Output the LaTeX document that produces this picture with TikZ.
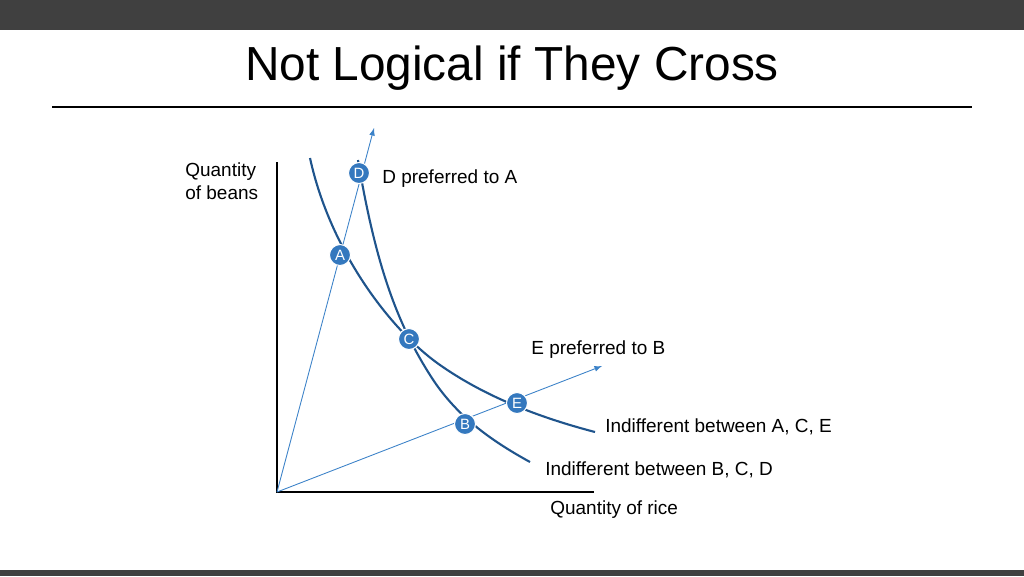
\documentclass[tikz,border=0pt]{standalone}
\usepackage{fontspec}
\setmainfont{Liberation Sans}
\usetikzlibrary{arrows}
\definecolor{curveblue}{RGB}{31,84,140}
\definecolor{rayblue}{RGB}{60,130,200}
\definecolor{dotblue}{RGB}{52,120,190}
\definecolor{bar}{RGB}{64,64,64}
\tikzset{
  pt/.style={circle, fill=dotblue, draw=white, line width=0.6pt, minimum size=21*0.02cm, inner sep=0pt, text=white, font=\fontsize{8.5}{8.5}\selectfont},
  lbl/.style={anchor=west, inner sep=0pt, font=\fontsize{10.8}{13}\selectfont},
  ray/.style={rayblue, line width=0.5pt, -latex},
  icurve/.style={curveblue, line width=1.2pt}
}
\begin{document}
\begin{tikzpicture}[x=0.02cm, y=-0.02cm]
  \useasboundingbox (0,0) rectangle (1024,576);
  \fill[bar] (0,0) rectangle (1024,30);
  \fill[bar] (0,570) rectangle (1024,576);
  \node[font=\fontsize{27.2}{30}\selectfont] (title) at (512,68) {Not Logical if They Cross};
  \draw[line width=0.8pt] (52,107) -- (972,107);
  % axes
  \coordinate (origin) at (277,492);
  \coordinate (ytop) at (277,162);
  \coordinate (xend) at (594,492);
  \draw[line width=1.5pt] (ytop) -- (origin) -- (xend);
  % rays
  \coordinate (ray1) at (374,128);
  \coordinate (ray2) at (602,366);
  \draw[ray] (origin) -- (ray1);
  \draw[ray] (origin) -- (ray2);
  % curves
  \draw[icurve] (310,158) .. controls (330,250) and (390,330) .. (440,365)
    .. controls (480,393) and (530,415) .. (595,432);
  \draw[icurve] (358,160) .. controls (375,260) and (395,320) .. (430,375)
    .. controls (455,415) and (490,440) .. (530,462);
  % points
  \node[pt] (d) at (359,173) {D};
  \node[pt] (a) at (340,255) {A};
  \node[pt] (c) at (409,339) {C};
  \node[pt] (e) at (517,403) {E};
  \node[pt] (b) at (465,424) {B};
  % labels
  \node[lbl] (dpref) at (382,179) {D preferred to A};
  \node[lbl] (epref) at (531,350) {E preferred to B};
  \node[lbl] (ace) at (605,427) {Indifferent between A, C, E};
  \node[lbl] (bcd) at (545,470) {Indifferent between B, C, D};
  \node[lbl] (rice) at (550,510) {Quantity of rice};
  \node[lbl, align=left] (beans) at (185,181) {Quantity\\of beans};
\end{tikzpicture}
\end{document}
